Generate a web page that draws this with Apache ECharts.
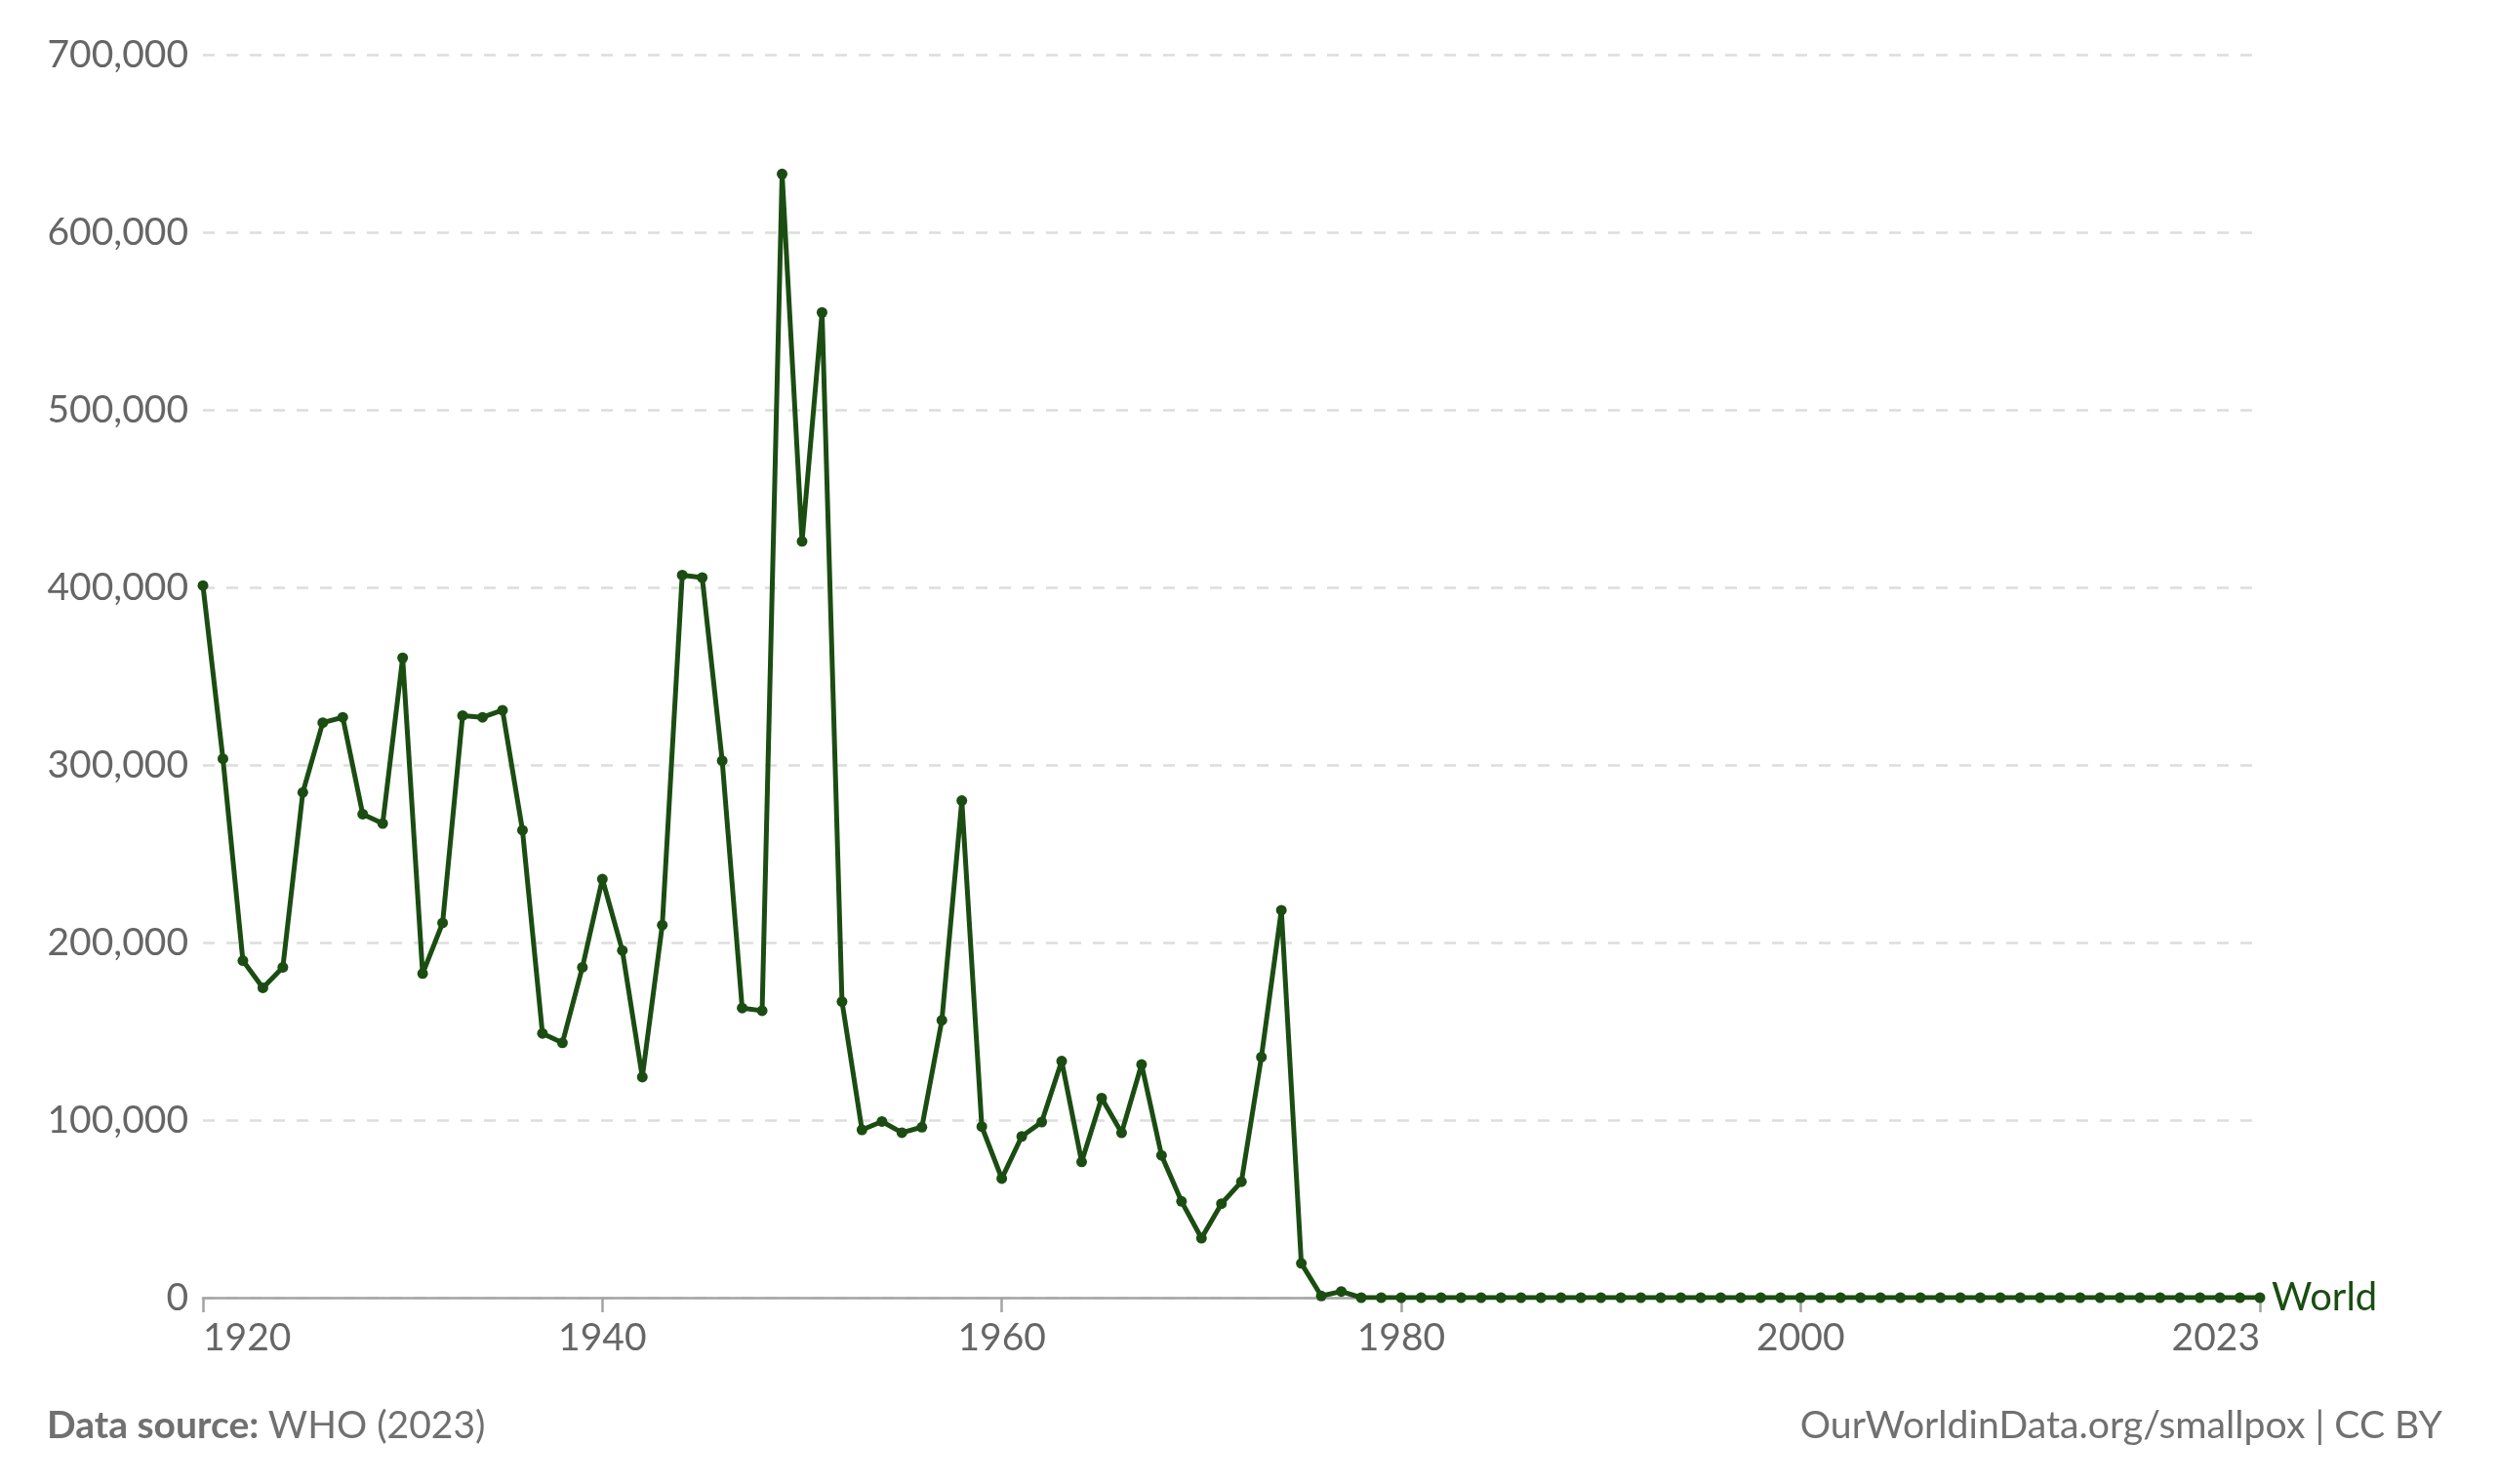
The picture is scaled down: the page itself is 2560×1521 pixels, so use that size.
<!DOCTYPE html>
<html>
<head>
<meta charset="utf-8">
<script src="https://cdn.jsdelivr.net/npm/echarts@6/dist/echarts.min.js"></script>
<style>
html,body{margin:0;padding:0;background:#fff;}
#chart{width:2560px;height:1521px;}
</style>
</head>
<body>
<div id="chart"></div>
<script>
const years = [1920,1921,1922,1923,1924,1925,1926,1927,1928,1929,
1930,1931,1932,1933,1934,1935,1936,1937,1938,1939,
1940,1941,1942,1943,1944,1945,1946,1947,1948,1949,
1950,1951,1952,1953,1954,1955,1956,1957,1958,1959,
1960,1961,1962,1963,1964,1965,1966,1967,1968,1969,
1970,1971,1972,1973,1974,1975,1976,1977,1978,1979,
1980,1981,1982,1983,1984,1985,1986,1987,1988,1989,
1990,1991,1992,1993,1994,1995,1996,1997,1998,1999,
2000,2001,2002,2003,2004,2005,2006,2007,2008,2009,
2010,2011,2012,2013,2014,2015,2016,2017,2018,2019,
2020,2021,2022,2023];

const worldCases = [401000,303500,189800,174500,186000,284500,323800,326800,272300,267000,
360300,182500,211000,327800,326800,330800,263200,148800,143500,186000,
235700,195500,124200,209800,406900,405500,302400,163100,161600,632800,
425900,554800,166700,94500,99200,92900,96000,156200,279900,96300,
67100,90800,98900,133200,76500,112400,92800,131300,80100,54200,
33500,52900,65300,135500,218200,19300,950,3500,0,0,
0,0,0,0,0,0,0,0,0,0,
0,0,0,0,0,0,0,0,0,0,
0,0,0,0,0,0,0,0,0,0,
0,0,0,0,0,0,0,0,0,0,
0,0,0,0];

const xTickLabels = [1920,1940,1960,1980,2000,2023];
const yTickLabels = [0,100000,200000,300000,400000,500000,600000,700000];

const seriesName = 'World';
const sourceText = 'WHO (2023)';
const creditText = 'OurWorldinData.org/smallpox | CC BY';

const GREEN = '#1b4d12';
const FONT = 'Lato, "Noto Sans", sans-serif';

const chart = echarts.init(document.getElementById('chart'), null, {renderer:'canvas'});
const pts = years.map((y,i)=>[y, worldCases[i]]);

chart.setOption({
  animation:false,
  backgroundColor:'#ffffff',
  grid:{left:208, right:244, top:56, bottom:191, containLabel:false},
  xAxis:{
    type:'value',
    min:xTickLabels[0],
    max:xTickLabels[xTickLabels.length-1],
    axisLine:{show:true, lineStyle:{color:'#a3a3a3', width:2.5}},
    axisTick:{show:true, customValues:xTickLabels, length:15, lineStyle:{color:'#a3a3a3', width:2.5}},
    axisLabel:{show:true, customValues:xTickLabels, margin:22, fontFamily:FONT, fontSize:39, color:'#666666',
      alignMinLabel:'left', alignMaxLabel:'right', showMinLabel:true, showMaxLabel:true,
      formatter:v=>String(v)},
    splitLine:{show:false}
  },
  yAxis:{
    type:'value',
    min:yTickLabels[0],
    max:yTickLabels[yTickLabels.length-1],
    interval:yTickLabels[1]-yTickLabels[0],
    axisLine:{show:false},
    axisTick:{show:false},
    axisLabel:{margin:15, fontFamily:FONT, fontSize:39, color:'#666666',
      formatter:v=>v.toLocaleString('en-US')},
    splitLine:{show:true, lineStyle:{color:'#dddddd', width:2.5, type:[12,12]}}
  },
  series:[{
    name:seriesName,
    type:'line',
    data:pts,
    symbol:'circle',
    symbolSize:11,
    showAllSymbol:true,
    lineStyle:{color:GREEN, width:5},
    itemStyle:{color:GREEN},
    endLabel:{show:true, formatter:seriesName, color:GREEN, fontFamily:FONT, fontSize:40, distance:12},
    z:5
  }],
  graphic:[
    {type:'text', left:48, top:1442, style:{
      text:'{b|Data source:\u00a0}{n|'+sourceText+'}',
      rich:{
        b:{fontFamily:FONT, fontSize:39, fontWeight:'bold', fill:'#707070'},
        n:{fontFamily:FONT, fontSize:39, fill:'#707070'}
      }}},
    {type:'text', right:57, top:1442, style:{
      text:creditText, fontFamily:FONT, fontSize:39.2, fill:'#707070'}}
  ]
});
</script>
</body>
</html>
